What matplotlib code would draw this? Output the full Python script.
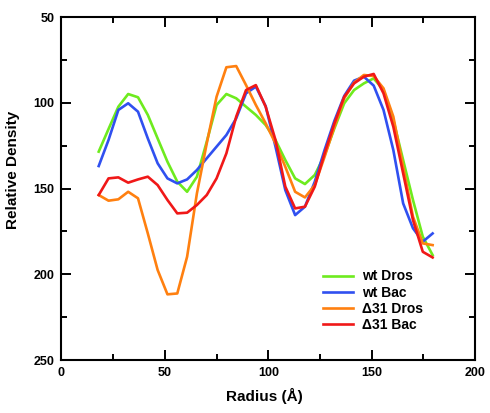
import matplotlib
matplotlib.use("Agg")
import matplotlib.pyplot as plt
from matplotlib.ticker import MultipleLocator

plt.rcParams['font.family'] = ['Liberation Sans', 'DejaVu Sans']
plt.rcParams['font.weight'] = 'bold'

radius = [18.0, 22.75, 27.5, 32.25, 37.0, 41.75, 46.5, 51.25, 56.0, 60.75,
          65.5, 70.25, 75.0, 79.75, 84.5, 89.25, 94.0, 98.75, 103.5, 108.25,
          113.0, 117.75, 122.5, 127.25, 132.0, 136.75, 141.5, 146.25, 151.0, 155.75,
          160.5, 165.25, 170.0, 174.75, 179.5]

wt_dros = [128.5, 115.3, 102.3, 94.9, 96.8, 107.1, 120.8, 134.4, 146.0, 151.9,
           143.1, 122.7, 101.3, 94.9, 97.4, 102.3, 107.1, 113.0, 121.7, 133.4,
           144.1, 147.4, 142.1, 130.5, 114.9, 100.3, 92.6, 88.7, 85.8, 92.6,
           110.1, 133.4, 156.7, 178.1, 188.8]

wt_bac = [136.9, 121.7, 104.2, 100.3, 105.2, 120.8, 135.3, 144.1, 147.0, 144.7,
          139.2, 132.4, 125.6, 118.8, 109.1, 94.5, 90.6, 102.0, 125.6, 150.9,
          165.5, 160.6, 146.0, 127.5, 110.5, 96.0, 87.1, 84.8, 90.0, 104.2,
          127.6, 158.7, 173.2, 181.0, 176.2]

d31_dros = [153.8, 157.1, 156.3, 151.9, 155.7, 176.2, 197.5, 211.7, 211.2, 189.8,
            152.8, 123.7, 96.5, 79.3, 78.6, 89.7, 101.3, 112.0, 123.7, 137.3,
            151.9, 155.2, 148.0, 131.5, 114.0, 97.4, 88.3, 83.8, 84.4, 91.6,
            108.1, 137.3, 166.4, 182.0, 183.0]

d31_bac = [153.8, 144.1, 143.5, 146.6, 144.7, 143.1, 148.0, 156.7, 164.5, 164.1,
           159.6, 153.8, 144.1, 129.5, 108.1, 92.6, 89.7, 102.3, 121.7, 148.9,
           161.6, 160.6, 148.9, 129.5, 112.0, 96.5, 88.7, 84.8, 83.2, 94.5,
           114.0, 141.2, 168.4, 186.9, 190.2]

series = [
    ("wt Dros", wt_dros, "#6EEB1E"),
    ("wt Bac", wt_bac, "#3050F0"),
    ("\u039431 Dros", d31_dros, "#FF8010"),
    ("\u039431 Bac", d31_bac, "#F01818"),
]

fig = plt.figure(figsize=(4.9, 4.13), dpi=100)
ax = fig.add_axes([0.1255, 0.1283, 0.8439, 0.8305])

for label, vals, color in series:
    ax.plot(radius, vals, color=color, lw=1.9, label=label)

ax.set_xlim(0, 200)
ax.set_ylim(250, 50)
ax.xaxis.set_major_locator(MultipleLocator(50))
ax.xaxis.set_minor_locator(MultipleLocator(25))
ax.yaxis.set_major_locator(MultipleLocator(50))
ax.yaxis.set_minor_locator(MultipleLocator(25))
ax.tick_params(which='both', direction='in', top=True, right=True, width=1.4,
               labelsize=9, pad=5)
ax.tick_params(which='major', length=7)
ax.tick_params(which='minor', length=4.5)
for s in ax.spines.values():
    s.set_linewidth(1.5)

ax.set_xlabel("Radius (\u00c5)", fontsize=11, fontweight='bold')
ax.set_ylabel("Relative Density", fontsize=11, fontweight='bold')
ax.xaxis.set_label_coords(0.49, -0.082)
ax.yaxis.set_label_coords(-0.100, 0.554)

leg = ax.legend(loc='upper left', bbox_to_anchor=(0.632, 0.264), frameon=False,
                fontsize=10, handlelength=2.2, handletextpad=0.6,
                labelspacing=0.15, borderpad=0, borderaxespad=0)

fig.savefig("out.png", dpi=100)
